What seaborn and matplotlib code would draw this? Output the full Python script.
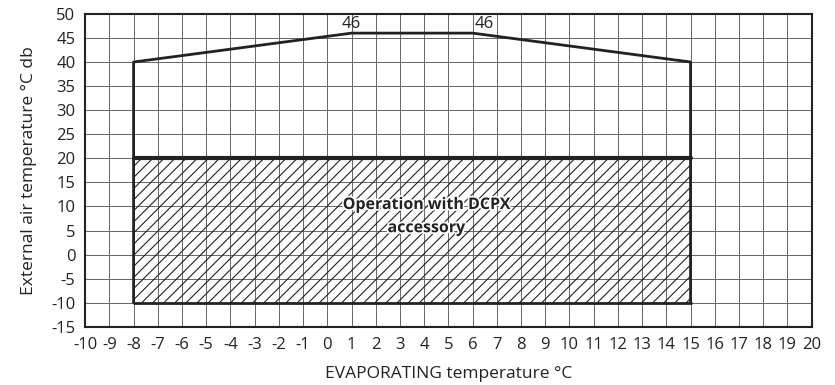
import matplotlib
matplotlib.use("Agg")
import matplotlib.pyplot as plt
import matplotlib.patheffects as pe
import seaborn as sns
import pandas as pd
import numpy as np

# Envelope data
env_x = [-8, -8, 1, 6, 15, 15]
env_y = [-10, 40, 46, 46, 40, -10]
dcpx_x = [-8, 15]
dcpx_top = [20, 20]
dcpx_bottom = [-10, -10]
peak_labels = ["46", "46"]
peak_label_x = [1, 6.5]
peak_label_y = [46, 46]
x_ticks = list(range(-10, 21))
y_ticks = list(range(-15, 51, 5))

sns.set_theme(style="white")
plt.rcParams['font.family'] = ['Open Sans', 'DejaVu Sans']
plt.rcParams['hatch.linewidth'] = 0.8

fig = plt.figure(figsize=(8.35, 3.85), dpi=100)
ax = fig.add_axes([0.102, 0.151, 0.870, 0.813])

# hatched DCPX area
ax.fill_between(dcpx_x, dcpx_bottom, dcpx_top, facecolor="none", edgecolor="#222222",
                hatch="///", linewidth=0, zorder=2)

df = pd.DataFrame({"x": env_x, "y": env_y})
sns.lineplot(data=df, x="x", y="y", sort=False, estimator=None, color="#222222",
             lw=2.0, ax=ax, zorder=4)
sns.lineplot(x=dcpx_x, y=dcpx_top, estimator=None, color="#222222", lw=3.0, ax=ax, zorder=4)
sns.lineplot(x=dcpx_x, y=dcpx_bottom, estimator=None, color="#222222", lw=2.0, ax=ax, zorder=4)

for lbl, xx, yy in zip(peak_labels, peak_label_x, peak_label_y):
    ax.text(xx, yy + 0.3, lbl, ha="center", va="bottom", fontsize=12, color="#222222", zorder=5)

ax.text(4.1, 7.9, "Operation with DCPX\naccessory", ha="center", va="center", fontsize=11.5,
        fontweight="bold", color="#222222", linespacing=1.6, zorder=6,
        path_effects=[pe.withStroke(linewidth=2.5, foreground="white")])

ax.set_xlim(-10, 20)
ax.set_ylim(-15, 50)
ax.set_xticks(x_ticks)
ax.set_yticks(y_ticks)
ax.set_xticklabels([str(v) for v in x_ticks])
ax.set_yticklabels([str(v) for v in y_ticks])
ax.grid(True, color="#666666", lw=0.7, zorder=0)
ax.set_axisbelow(True)
ax.tick_params(axis="both", length=0, labelsize=12, colors="#222222")
ax.tick_params(axis="y", pad=7)
ax.tick_params(axis="x", pad=7)
for s in ax.spines.values():
    s.set_color("#222222")
    s.set_linewidth(1.5)
    s.set_visible(True)
ax.set_xlabel("EVAPORATING temperature °C", fontsize=12.5, color="#222222", labelpad=10)
ax.set_ylabel("External air temperature °C db", fontsize=12.5, color="#222222", labelpad=10)

fig.savefig("out.png", dpi=100)
